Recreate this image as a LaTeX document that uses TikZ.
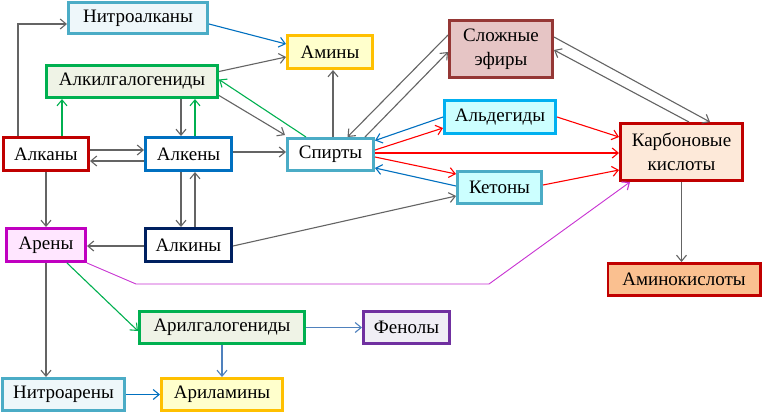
\documentclass[tikz,border=0pt]{standalone}
\usepackage{fontspec}
\setmainfont{Liberation Serif}
\usetikzlibrary{arrows.meta,calc}
\definecolor{cLB}{RGB}{75,172,198}
\definecolor{fLB}{RGB}{238,247,250}
\definecolor{cGold}{RGB}{255,192,0}
\definecolor{fYel}{RGB}{255,255,204}
\definecolor{cGrn}{RGB}{0,176,80}
\definecolor{fGrn}{RGB}{239,243,230}
\definecolor{cRed}{RGB}{192,0,0}
\definecolor{cBlu}{RGB}{0,112,192}
\definecolor{cMag}{RGB}{192,0,192}
\definecolor{fMag}{RGB}{255,230,255}
\definecolor{cNavy}{RGB}{0,32,96}
\definecolor{cBrn}{RGB}{149,55,53}
\definecolor{fRose}{RGB}{230,197,197}
\definecolor{cCyan}{RGB}{0,176,240}
\definecolor{fCyan}{RGB}{204,255,255}
\definecolor{fPeach}{RGB}{253,233,217}
\definecolor{fOrg}{RGB}{250,192,144}
\definecolor{cPur}{RGB}{112,48,160}
\definecolor{fPur}{RGB}{240,238,245}
\definecolor{lGray}{RGB}{100,100,100}
\definecolor{lBlue}{RGB}{0,112,192}
\definecolor{lSteel}{RGB}{79,129,189}
\definecolor{lRed}{RGB}{255,0,0}
\definecolor{lGrn}{RGB}{0,176,80}
\definecolor{lMag}{RGB}{200,50,210}
\begin{document}
\begin{tikzpicture}[x=1pt,y=-1pt,
  box/.style={draw, line width=2.8pt, inner sep=0pt, align=center,
    font=\fontsize{19}{24}\selectfont},
  sz/.style 2 args={minimum width={#1pt-2.8pt}, minimum height={#2pt-2.8pt}},
  conn/.style={line width=1.1pt, -{Straight Barb[length=6pt,width=10pt,line width=1.1pt]}},
  gr/.style={conn, draw=lGray},
  bl/.style={conn, draw=lBlue},
  st/.style={conn, draw=lSteel},
  rd/.style={conn, draw=lRed},
  gn/.style={conn, draw=lGrn},
  mg/.style={conn, draw=lMag}]
\fill[white] (0,0) rectangle (763,413);
\useasboundingbox (0,0) rectangle (763,413);

% nodes
\node[box, sz={142}{34}, draw=cLB, fill=fLB] (nitroalk) at (138,18) {Нитроалканы};
\node[box, sz={88}{36}, draw=cGold, fill=fYel] (aminy) at (330,52) {Амины};
\node[box, sz={174}{35}, draw=cGrn, fill=fGrn] (alkylhal) at (132,81.5) {Алкилгалогениды};
\node[box, sz={88}{36}, draw=cRed, fill=white] (alkany) at (46,154) {Алканы};
\node[box, sz={89}{36}, draw=cBlu, fill=white] (alkeny) at (188.5,154) {Алкены};
\node[box, sz={89}{35}, draw=cLB, fill=white] (spirty) at (330.5,154.5) {Спирты};
\node[box, sz={82}{36}, draw=cMag, fill=fMag] (areny) at (46,245) {Арены};
\node[box, sz={89}{36}, draw=cNavy, fill=white] (alkiny) at (188.5,245) {Алкины};
\node[box, sz={106}{60}, draw=cBrn, fill=fRose] (efiry) at (501,49) {Сложные\\эфиры};
\node[box, sz={114}{36}, draw=cCyan, fill=fCyan] (aldeg) at (500,117) {Альдегиды};
\node[box, sz={87}{35}, draw=cLB, fill=fCyan] (ketony) at (499.5,187.5) {Кетоны};
\node[box, sz={125}{60}, draw=cRed, fill=fPeach] (karb) at (681.5,152) {Карбоновые\\кислоты};
\node[box, sz={155}{35}, draw=cRed, fill=fOrg] (aminoac) at (684,279.5) {Аминокислоты};
\node[box, sz={168}{35}, draw=cGrn, fill=fGrn] (arylhal) at (222,327.5) {Арилгалогениды};
\node[box, sz={89}{35}, draw=cPur, fill=fPur] (fenoly) at (406.5,327.5) {Фенолы};
\node[box, sz={125}{35}, draw=cLB, fill=fLB] (nitroar) at (63.5,394.5) {Нитроарены};
\node[box, sz={124}{35}, draw=cGold, fill=fYel] (arylam) at (222,394.5) {Ариламины};

% helper coordinates
\coordinate (aN1) at ([xshift=-28pt]alkany.north);
\coordinate (aN2) at ([xshift=16pt]alkany.north);
\coordinate (eN1) at ([xshift=-7.5pt]alkeny.north);
\coordinate (eN2) at ([xshift=6.5pt]alkeny.north);
\coordinate (eS1) at ([xshift=-7.5pt]alkeny.south);
\coordinate (eS2) at ([xshift=6.5pt]alkeny.south);
\coordinate (sN) at ([xshift=2.5pt]spirty.north);
\coordinate (sE) at ([yshift=1.5pt]spirty.east);
\coordinate (kS) at (karb.south);
\coordinate (arS) at (areny.south);
\coordinate (ahS) at (arylhal.south);
\coordinate (m1) at (136,284);
\coordinate (m2) at (489,284);

% connectors
\draw[gr] (aN1) |- ([yshift=-6pt]nitroalk.west);
\draw[bl] ([yshift=-6pt]nitroalk.east) -- ([yshift=8pt]aminy.west);
\draw[gr] ([yshift=10pt]alkylhal.east) -- ([yshift=-5pt]aminy.west);
\draw[gr] ([yshift=-14pt]alkylhal.east) -- ([xshift=-1pt,yshift=2pt]spirty.north west);
\draw[gn] ([xshift=20pt]spirty.north west) -- ([yshift=2pt]alkylhal.east);
\draw[gn] (aN2) -- (aN2 |- alkylhal.south);
\draw[gr] (eN1 |- alkylhal.south) -- (eN1);
\draw[gn] (eN2) -- (eN2 |- alkylhal.south);
\draw[gr] ([yshift=4pt]alkany.east) -- ([yshift=4pt]alkeny.west);
\draw[gr] ([yshift=-7pt]alkeny.west) -- ([yshift=-7pt]alkany.east);
\draw[gr] ([yshift=2pt]alkeny.east) -- ([yshift=2pt]alkeny.east -| spirty.west);
\draw[gr] (eS1) -- (eS1 |- alkiny.north);
\draw[gr] (eS2 |- alkiny.north) -- (eS2);
\draw[gr] (alkany.south) -- (areny.north);
\draw[gr] ([yshift=-1pt]alkiny.west) -- ([yshift=-1pt]areny.east);
\draw[gr] ([yshift=-1pt]alkiny.east) -- ([yshift=-8.5pt]ketony.west);
\draw[gr] (sN) -- (sN |- aminy.south);
\draw[gr] ([yshift=14pt]efiry.west) -- ([xshift=17pt]spirty.north);
\draw[gr] ([xshift=34.5pt]spirty.north) -- ([yshift=-3pt]efiry.west);
\draw[gr] ([yshift=12pt]efiry.east) -- ([xshift=28.5pt]karb.north);
\draw[gr] ([xshift=7.5pt]karb.north) -- ([yshift=-1pt]efiry.east);
\draw[bl] (aldeg.west) -- ([yshift=14pt]spirty.east);
\draw[rd] ([yshift=4.5pt]spirty.east) -- ([yshift=-11pt]aldeg.west);
\draw[rd] (sE) -- (sE -| karb.west);
\draw[rd] ([yshift=-2.5pt]spirty.east) -- ([yshift=13.5pt]ketony.west);
\draw[bl] ([yshift=1.5pt]ketony.west) -- ([yshift=-13.5pt]spirty.east);
\draw[rd] (aldeg.east) -- ([yshift=15pt]karb.west);
\draw[rd] ([yshift=2.5pt]ketony.east) -- ([yshift=-18pt]karb.west);
\draw[gr] (kS) -- (kS |- aminoac.north);
\draw[mg, line width=0.9pt] (areny.south east) -- (m1) -- (m2) -- ([xshift=11pt]karb.south west);
\draw[gn] ([xshift=21pt]areny.south) -- ([yshift=-3.5pt]arylhal.west);
\draw[gr] (arS) -- (arS |- nitroar.north);
\draw[st] (arylhal.east) -- (fenoly.west);
\draw[st] (ahS) -- (ahS |- arylam.north);
\draw[bl] (nitroar.east) -- (arylam.west);
\end{tikzpicture}
\end{document}
